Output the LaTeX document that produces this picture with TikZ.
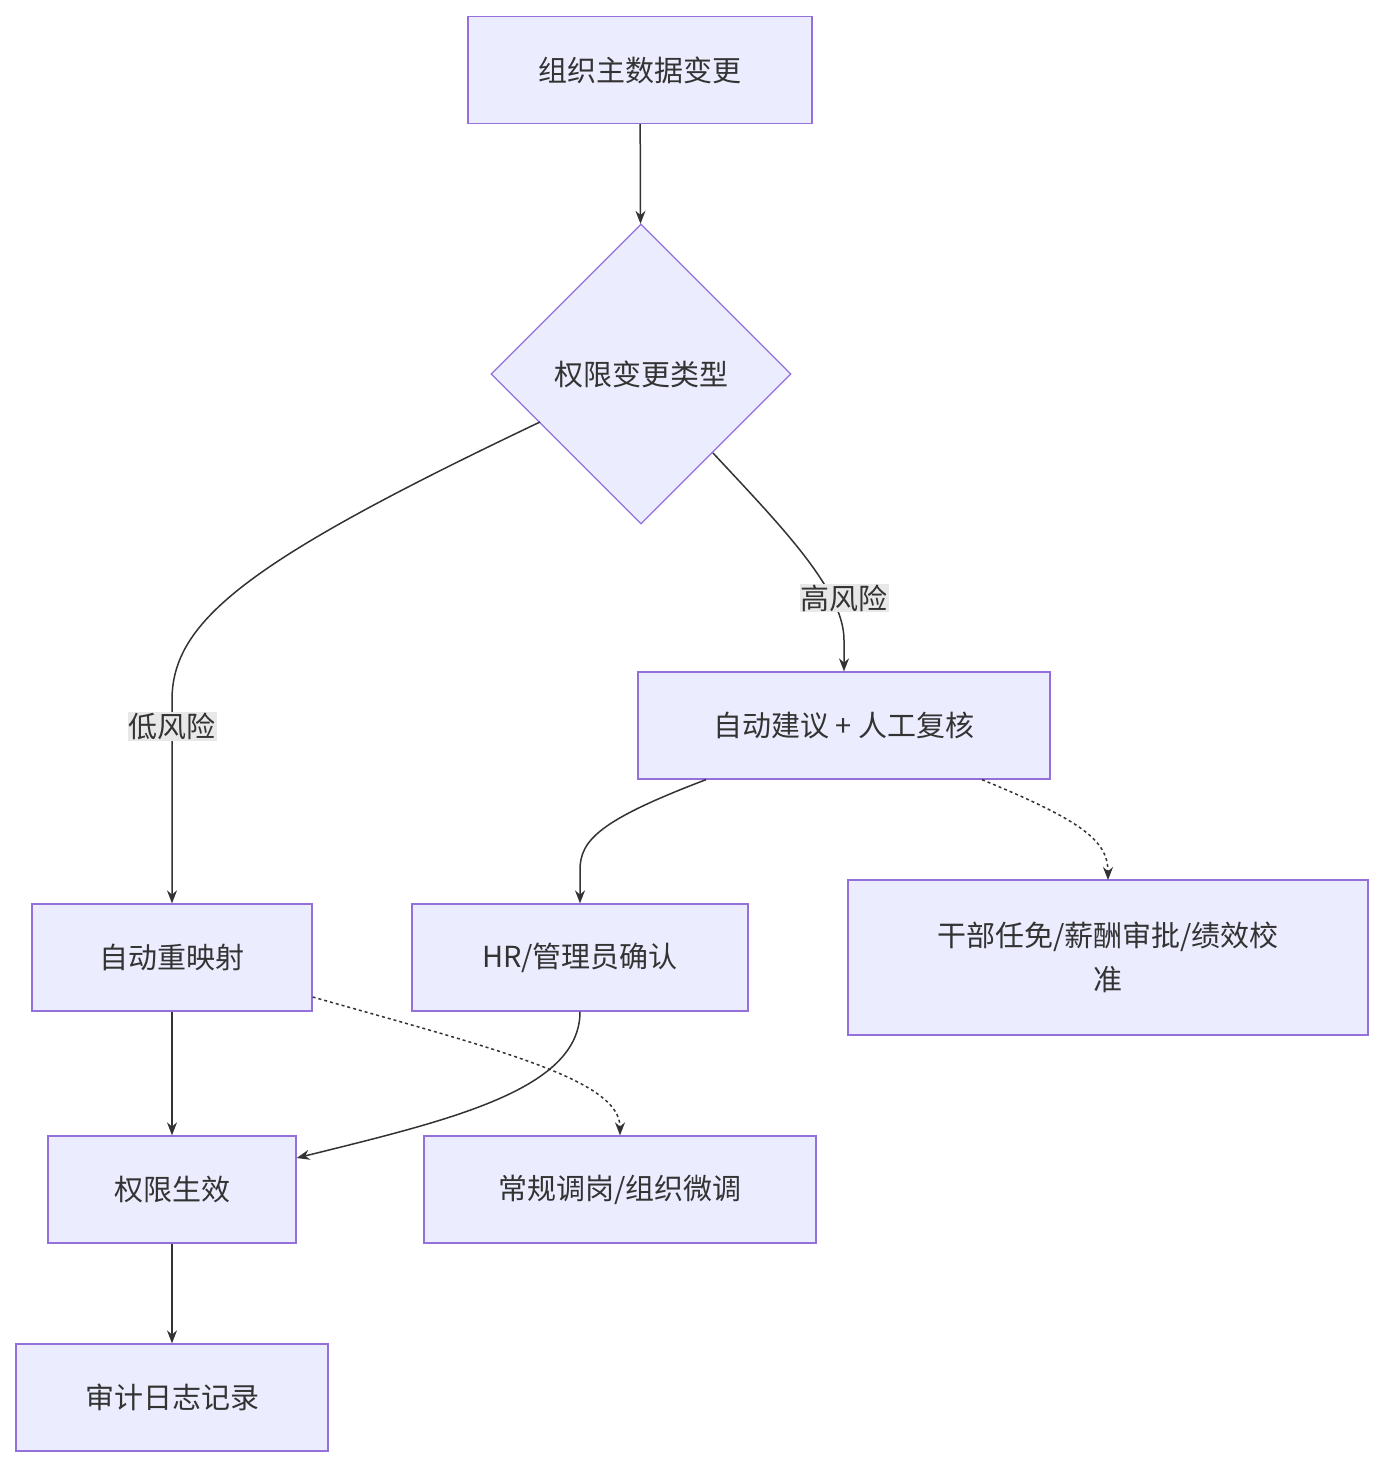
\documentclass[tikz,border=0pt]{standalone}
\usepackage{fontspec}
\setmainfont{Noto Sans CJK SC}
\usetikzlibrary{shapes.geometric,arrows.meta}
\definecolor{nfill}{HTML}{ECECFF}
\definecolor{ndraw}{HTML}{9370DB}
\definecolor{ln}{HTML}{333333}
\definecolor{lbg}{HTML}{E8E8E8}
\begin{document}
\begin{tikzpicture}[x=1pt,y=-1pt,
  box/.style={draw=ndraw,fill=nfill,line width=1.3pt,minimum height=107pt,inner sep=0pt,font=\fontsize{29}{44}\selectfont,text=ln,align=center},
  dia/.style={draw=ndraw,fill=nfill,line width=1.3pt,diamond,minimum width=300pt,minimum height=300pt,inner sep=0pt,font=\fontsize{29}{44}\selectfont,text=ln},
  lbl/.style={fill=lbg,inner sep=1pt,font=\fontsize{29}{36}\selectfont,text=ln},
  con/.style={draw=ln,line width=1.5pt,-{Stealth[length=13pt,width=10pt]}},
  dcon/.style={con,dash pattern=on 3pt off 3pt}]
\useasboundingbox (0,0) rectangle (1384,1468);
\node[box,minimum width=344pt] (a) at (640,70) {组织主数据变更};
\node[dia] (d) at (641,374) {权限变更类型};
\node[box,minimum width=412pt] (b) at (844,725.5) {自动建议 + 人工复核};
\node[box,minimum width=280pt] (c) at (172,957.5) {自动重映射};
\node[box,minimum width=336pt] (hr) at (580,957.5) {HR/管理员确认};
\node[box,minimum width=520pt,minimum height=155pt] (e) at (1108,957.5) {干部任免/薪酬审批/绩效校\\准};
\node[box,minimum width=248pt] (f) at (172,1189.5) {权限生效};
\node[box,minimum width=392pt] (g) at (620,1189.5) {常规调岗/组织微调};
\node[box,minimum width=312pt] (h) at (172,1397.5) {审计日志记录};
\coordinate (d1) at (540,422);
\coordinate (d2) at (713,453);
\draw[con] (a) -- (d);
\draw[con] (d1) .. controls (250,560) and (172,620) .. (172,700) -- (c.north);
\draw[con] (d2) .. controls (780,525) and (844,590) .. (844,640) -- (b.north);
\node[lbl] (l1) at (172,726) {低风险};
\node[lbl] (l2) at (844,598) {高风险};
\draw[con] ([xshift=-138pt]b.south) .. controls (600,820) and (580,840) .. (580,870) -- (hr.north);
\draw[dcon] ([xshift=138pt]b.south) .. controls (1080,820) and (1108,840) .. (1108,880);
\draw[con] (c) -- (f);
\draw[dcon] (c.east |- 0,997) .. controls (500,1050) and (620,1080) .. (g.north);
\draw[con] (hr.south) .. controls (580,1090) and (450,1120) .. (f.east |- 0,1158);
\draw[con] (f) -- (h);
\end{tikzpicture}
\end{document}
